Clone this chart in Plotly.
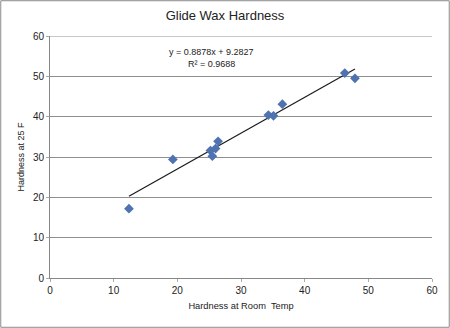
import plotly.graph_objects as go

room_temp = [12.4, 19.3, 25.2, 25.5, 26.0, 26.4, 34.3, 35.1, 36.5, 46.3, 47.9]
at_25f = [17.2, 29.4, 31.6, 30.2, 32.1, 33.9, 40.4, 40.2, 43.1, 50.8, 49.5]
slope = 0.8878
intercept = 9.2827
r2 = 0.9688
x_ticks = [0, 10, 20, 30, 40, 50, 60]
y_ticks = [0, 10, 20, 30, 40, 50, 60]

W, H = 450, 328
ml, mr, mt, mb = 50, 18, 36, 50
pw, ph = W - ml - mr, H - mt - mb

font = "Liberation Sans, Arial, sans-serif"
tx = [min(room_temp), max(room_temp)]
ty = [slope * v + intercept for v in tx]

fig = go.Figure()
fig.add_trace(go.Scatter(x=tx, y=ty, mode="lines",
                         line=dict(color="#1a1a1a", width=1.2), showlegend=False))
fig.add_trace(go.Scatter(x=room_temp, y=at_25f, mode="markers",
                         marker=dict(symbol="diamond", size=7.5, color="#4F73B0"),
                         showlegend=False))

fig.add_annotation(x=25.4, y=56.1, text=f"y = {slope}x + {intercept}", showarrow=False,
                   font=dict(family=font, size=9, color="#222"))
fig.add_annotation(x=25.4, y=53.1, text=f"R² = {r2}", showarrow=False,
                   font=dict(family=font, size=9, color="#222"))

# top gridline at the last y tick
fig.add_shape(type="line", xref="paper", yref="y", x0=0, x1=1,
              y0=y_ticks[-1], y1=y_ticks[-1], line=dict(color="#8f8f8f", width=1))

fig.add_shape(type="rect", xref="paper", yref="paper",
              x0=-ml / pw + 0.002, x1=1 + mr / pw - 0.002,
              y0=-mb / ph + 0.003, y1=1 + mt / ph - 0.003,
              line=dict(color="#8a8a8a", width=1))

fig.update_layout(
    width=W, height=H,
    margin=dict(l=ml, r=mr, t=mt, b=mb),
    paper_bgcolor="white", plot_bgcolor="white",
    title=dict(text="Glide Wax Hardness", x=0.5, xanchor="center", y=1 - 15 / H,
               yanchor="middle", font=dict(family=font, size=13, color="#222")),
    font=dict(family=font, size=10, color="#222"),
)
fig.update_xaxes(range=[0, 60], tickvals=x_ticks, showgrid=False, zeroline=False,
                 showline=True, linecolor="#888", linewidth=1,
                 ticks="outside", ticklen=3, tickcolor="#aaa",
                 title=dict(text="Hardness at Room  Temp", font=dict(size=9.3), standoff=7),
                 tickfont=dict(size=10))
fig.update_yaxes(range=[0, 60], tickvals=y_ticks, showgrid=True, gridcolor="#8f8f8f",
                 gridwidth=1, zeroline=False, showline=True, linecolor="#888", linewidth=1,
                 ticks="outside", ticklen=3, tickcolor="#aaa",
                 title=dict(text="Hardness at 25 F", font=dict(size=9), standoff=6),
                 tickfont=dict(size=10))

fig.write_html("out.html")
